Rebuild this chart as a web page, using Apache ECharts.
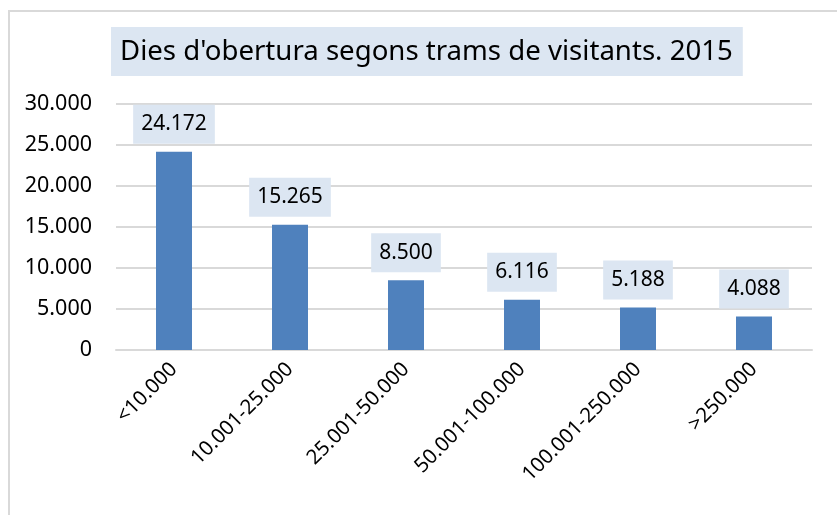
<!DOCTYPE html>
<html>
<head>
<meta charset="utf-8">
<script src="https://cdn.jsdelivr.net/npm/echarts@6/dist/echarts.min.js"></script>
<style>
  html, body { margin: 0; padding: 0; background: #fff; }
  #chart { width: 837px; height: 515px; }
</style>
</head>
<body>
<div id="chart"></div>
<script>
// trams de visitants
const categories = ['<10.000', '10.001-25.000', '25.001-50.000', '50.001-100.000', '100.001-250.000', '>250.000'];
// dies d'obertura
const values = [24172, 15265, 8500, 6116, 5188, 4088];
const yTicks = [0, 5000, 10000, 15000, 20000, 25000, 30000];

const font = "'Noto Sans', sans-serif";
// format with dot as thousands separator
const fmt = v => String(v).replace(/\B(?=(\d{3})+(?!\d))/g, '.');

const chart = echarts.init(document.getElementById('chart'));

chart.setOption({
  animation: false,
  graphic: [{
    type: 'rect',
    shape: { x: 9, y: 11, width: 900, height: 600 },
    style: { fill: 'none', stroke: '#d9d9d9', lineWidth: 2 },
    silent: true
  }],
  title: {
    text: "Dies d'obertura segons trams de visitants. 2015",
    left: 111,
    top: 27,
    padding: [9, 10, 8, 9],
    backgroundColor: '#dce6f2',
    textStyle: { fontFamily: font, fontSize: 27.6, fontWeight: 'normal', color: '#000', lineHeight: 32 }
  },
  grid: { left: 116, right: 25, top: 104, bottom: 165 },
  xAxis: {
    type: 'category',
    data: categories,
    axisLine: { show: true, lineStyle: { color: '#d9d9d9', width: 2 } },
    axisTick: { show: false },
    axisLabel: { rotate: 45, margin: 16, fontFamily: font, fontSize: 20.5, color: '#000', interval: 0 }
  },
  yAxis: {
    type: 'value',
    min: yTicks[0],
    max: yTicks[yTicks.length - 1],
    interval: yTicks[1] - yTicks[0],
    axisLine: { show: false },
    axisTick: { show: false },
    splitLine: { lineStyle: { color: '#d9d9d9', width: 2 } },
    axisLabel: { margin: 24, fontFamily: font, fontSize: 21.5, color: '#000', formatter: fmt }
  },
  series: [{
    type: 'bar',
    data: values,
    barWidth: 36,
    itemStyle: { color: '#4f81bd' },
    label: {
      show: true,
      position: 'top',
      distance: 8,
      formatter: p => fmt(p.value),
      fontFamily: font,
      fontSize: 21,
      lineHeight: 21,
      color: '#000',
      backgroundColor: '#dce6f2',
      padding: [9, 8]
    }
  }]
});
</script>
</body>
</html>
